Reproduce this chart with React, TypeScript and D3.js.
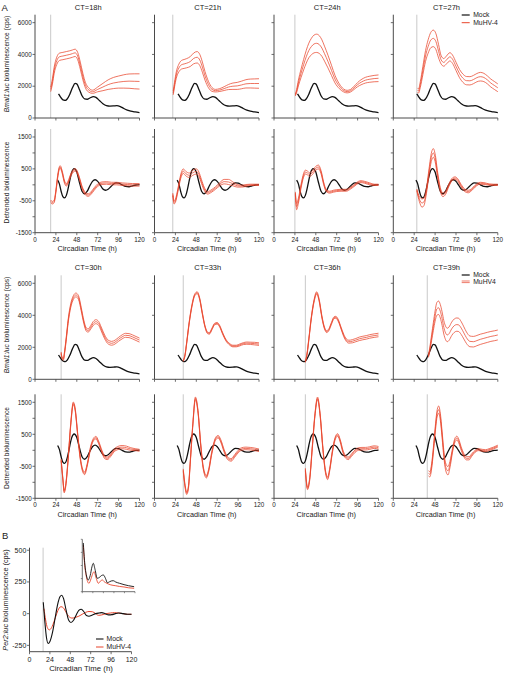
import React from 'react';
import * as d3 from 'd3';

// ---------------- data ----------------
const CT_VALUES = [18, 21, 24, 27, 30, 33, 36, 39];
const X_TICKS = [0, 24, 48, 72, 96, 120];
const RAW_Y_TICKS = [0, 2000, 4000, 6000];
const DET_Y_TICKS = [-1500, -1000, -500, 0, 500, 1000, 1500];
const DET_Y_LABELS = [-1500, -500, 500, 1500];
const PER2_Y_TICKS = [-250, 0, 250, 500];
const INSET_Y_TICKS = [0, 500, 1000, 1500, 2000];
const PER2_CT = 16;

// Mock (black) Bmal1:luc raw
const mockRawT = [27, 29, 31, 33, 35, 37, 40, 43, 46, 48, 51, 54, 57, 60, 63, 67, 70, 74, 78, 82, 86, 90, 94, 98, 102, 106, 110, 115, 120];
const mockRawV = [1520, 1350, 1200, 1120, 1110, 1200, 1500, 1900, 2180, 2150, 1800, 1400, 1200, 1180, 1260, 1350, 1300, 1100, 900, 780, 750, 760, 780, 720, 600, 500, 430, 380, 340];
// Mock detrended
const mockDetT = [26, 28, 30, 32, 34, 36, 38, 40, 42, 45, 48, 51, 54, 57, 60, 63, 66, 69, 72, 75, 78, 81, 84, 87, 90, 93, 96, 100, 104, 108, 112, 116, 120];
const mockDetV = [150, 30, -200, -370, -410, -330, -120, 150, 380, 510, 400, 80, -200, -280, -200, -30, 110, 160, 110, -10, -130, -170, -140, -60, 20, 60, 50, 0, -50, -60, -30, -5, 5];

// MuHV-4 (red) raw: times, mean, SEM per panel
const redRawT = [
  [18, 20, 22, 25, 28, 32, 36, 40, 43, 46, 49, 52, 55, 58, 62, 66, 72, 78, 84, 90, 96, 102, 108, 114, 120],
  [21.5, 23, 25, 28, 31, 34, 37, 41, 45, 49, 52, 55, 58, 62, 66, 70, 75, 80, 85, 90, 95, 100, 105, 110, 115, 120],
  [24.5, 26, 28, 31, 34, 37, 40, 43, 46, 49, 52, 55, 58, 62, 66, 70, 75, 80, 84, 88, 92, 96, 100, 105, 110, 115, 120],
  [27.7, 29, 31, 34, 37, 40, 43, 46, 49, 52, 55, 58, 61, 65, 68, 72, 76, 80, 84, 88, 92, 96, 100, 104, 108, 112, 116, 120],
  [30, 31, 32.5, 34, 36, 38, 41, 44, 47, 50, 53, 56, 59, 61, 64, 67, 70, 73, 76, 80, 84, 88, 92, 96, 100, 104, 108, 112, 116, 120],
  [33, 35, 37, 40, 43, 46, 49, 52, 55, 58, 61, 63, 66, 69, 72, 75, 78, 82, 86, 90, 94, 98, 102, 106, 110, 115, 120],
  [36, 38, 40, 43, 46, 49, 52, 55, 58, 60.5, 63, 66, 69, 71, 74, 77, 80, 83, 86, 90, 94, 98, 102, 106, 110, 115, 120],
  [40.4, 42, 44, 46, 48, 50, 52, 54, 56, 58, 60, 62, 64, 67, 70, 73, 75, 78, 81, 84, 88, 92, 96, 100, 104, 108, 112, 116, 120],
];
const redRawMean = [
  [1800, 2300, 3000, 3600, 3850, 3900, 3950, 4000, 4050, 4100, 3900, 3300, 2600, 2050, 1750, 1650, 1800, 1950, 2100, 2200, 2260, 2300, 2320, 2310, 2300],
  [1580, 2100, 2700, 3150, 3350, 3400, 3450, 3550, 3750, 3820, 3650, 3200, 2650, 2100, 1800, 1720, 1760, 1850, 1950, 2000, 2020, 2080, 2150, 2170, 2170, 2170],
  [1450, 1700, 2200, 2800, 3350, 3850, 4250, 4500, 4660, 4700, 4620, 4400, 4050, 3550, 3000, 2450, 2000, 1730, 1660, 1720, 1900, 2100, 2250, 2380, 2440, 2480, 2500],
  [1760, 1700, 2100, 3000, 3900, 4500, 4900, 5010, 4800, 4200, 3650, 3500, 3650, 3850, 3700, 3250, 2800, 2500, 2350, 2340, 2420, 2540, 2600, 2550, 2400, 2200, 2050, 1900],
  [1650, 1350, 1250, 1700, 2600, 3600, 4600, 5100, 5270, 5100, 4400, 3600, 3100, 3050, 3250, 3500, 3600, 3500, 3150, 2650, 2330, 2250, 2330, 2500, 2650, 2750, 2730, 2650, 2550, 2450],
  [1150, 1500, 2300, 3600, 4600, 5250, 5410, 5000, 4100, 3300, 2900, 2870, 3150, 3450, 3500, 3300, 2900, 2450, 2200, 2080, 2080, 2150, 2230, 2260, 2250, 2230, 2200],
  [1100, 1600, 2500, 3900, 4900, 5400, 4900, 3900, 3200, 2980, 3100, 3500, 3850, 3875, 3650, 3200, 2750, 2450, 2350, 2380, 2450, 2530, 2580, 2620, 2680, 2730, 2770],
  [1450, 1900, 2600, 3300, 3950, 4400, 4470, 4250, 3800, 3250, 2900, 2770, 2850, 3150, 3350, 3420, 3400, 3200, 2900, 2600, 2370, 2350, 2420, 2500, 2560, 2620, 2680, 2720, 2770],
];
const redRawSem = [
  [140, 170, 200, 230, 230, 230, 230, 230, 230, 230, 230, 220, 200, 170, 130, 100, 150, 230, 300, 350, 380, 420, 450, 470, 480],
  [120, 150, 200, 240, 270, 280, 290, 310, 340, 360, 350, 320, 270, 200, 120, 80, 90, 120, 160, 200, 220, 240, 260, 280, 290, 300],
  [60, 100, 180, 260, 330, 400, 460, 520, 560, 575, 560, 520, 470, 400, 320, 240, 150, 90, 80, 80, 100, 130, 160, 180, 190, 200, 210],
  [130, 130, 180, 260, 340, 420, 480, 520, 500, 420, 260, 240, 250, 260, 260, 260, 260, 260, 260, 260, 260, 260, 270, 260, 250, 250, 250, 245],
  [60, 60, 60, 80, 100, 110, 120, 120, 120, 120, 110, 100, 100, 100, 110, 120, 125, 120, 120, 120, 120, 120, 120, 120, 125, 125, 125, 125, 125, 125],
  [40, 50, 50, 60, 60, 60, 60, 60, 60, 50, 50, 50, 50, 50, 50, 50, 50, 50, 50, 50, 50, 60, 60, 70, 70, 80, 80],
  [50, 60, 60, 70, 70, 70, 70, 70, 60, 60, 60, 60, 60, 60, 60, 60, 70, 80, 90, 100, 100, 110, 110, 110, 110, 110, 110],
  [80, 120, 180, 250, 320, 400, 420, 420, 420, 420, 420, 420, 420, 420, 420, 415, 415, 400, 380, 360, 335, 330, 320, 320, 315, 315, 310, 310, 310],
];

// MuHV-4 detrended
const redDetT = [
  [18, 20, 22, 24, 26, 28, 29, 31, 34, 36, 38, 41, 44, 46, 48, 51, 54, 58, 61, 64, 68, 72, 77, 82, 88, 94, 100, 106, 112, 120],
  [21, 22.5, 24, 27, 30, 33, 36, 40, 44, 48, 51, 54, 57, 61, 65, 70, 75, 80, 85, 90, 95, 100, 105, 110, 115, 120],
  [24.5, 26, 28, 31, 34, 36, 38, 41, 44, 48, 51, 54, 57, 60, 64, 68, 72, 77, 83, 88, 93, 97, 100, 104, 110, 115, 120],
  [27, 30, 33, 35, 38, 41, 44, 46, 48, 51, 54, 57, 60, 64, 68, 71, 74, 78, 82, 86, 90, 94, 98, 100, 104, 110, 115, 120],
  [30, 32, 33.5, 35, 38, 41, 44, 46, 49, 52, 55, 57, 60, 64, 67, 70, 73, 77, 80, 83, 87, 91, 95, 100, 105, 110, 115, 120],
  [33, 35, 37, 39, 41, 44, 47, 50, 53, 56, 59.6, 62, 66, 70, 73, 76, 80, 84, 88, 92, 96, 100, 105, 110, 115, 120],
  [36, 38.5, 41, 44, 47, 50, 53, 56, 59, 61.6, 64, 67, 70, 73, 76, 79, 82, 85.4, 89, 93, 97, 101, 105, 110, 115, 120],
  [40.4, 42, 44, 46, 48, 50, 52, 54, 56, 58, 60, 62.8, 65, 68, 71, 73, 75, 78, 81, 84, 87, 90, 94, 98, 102, 106, 110, 115, 120],
];
const redDetMean = [
  [-520, -560, -520, -200, 250, 530, 560, 420, 80, 0, 80, 300, 440, 470, 420, 200, -80, -280, -320, -270, -130, -10, 50, 60, 40, 40, 20, 10, 0, 0],
  [-300, -550, -500, -150, 250, 430, 350, 300, 380, 420, 330, 100, -120, -250, -200, -100, 20, 100, 90, 30, -30, -40, -20, 0, 0, 0],
  [-260, -680, -500, -50, 300, 400, 380, 320, 380, 520, 560, 400, 50, -180, -230, -200, -180, -170, -170, -100, 0, 80, 100, 80, 30, 0, 0],
  [-160, -450, -570, -540, -200, 400, 900, 1000, 850, 300, -150, -310, -250, 0, 180, 210, 150, -30, -170, -210, -150, -40, 40, 50, 40, 10, 0, 0],
  [-300, -900, -1290, -1150, -300, 800, 1470, 1300, 500, -250, -650, -720, -450, 100, 330, 395, 250, -50, -220, -250, -150, 0, 70, 100, 80, 40, 20, 0],
  [-620, -1100, -1340, -1150, -400, 800, 1625, 1200, 200, -550, -825, -650, -50, 350, 425, 300, -20, -250, -300, -180, -40, 40, 60, 50, 30, 0],
  [-600, -1190, -900, 100, 1100, 1625, 1100, 100, -650, -875, -600, -50, 350, 480, 300, -20, -200, -250, -150, -30, 40, 50, 50, 70, 100, 80],
  [-720, -750, -500, 0, 600, 1100, 1270, 1050, 500, -100, -500, -640, -450, 0, 330, 380, 300, 50, -150, -250, -250, -150, -30, 20, 0, -10, 20, 70, 130],
];
const redDetSem = [
  [40, 40, 40, 40, 40, 40, 40, 40, 40, 40, 40, 40, 40, 40, 40, 40, 40, 40, 40, 40, 40, 40, 40, 40, 40, 40, 40, 40, 40, 40],
  [40, 50, 50, 50, 60, 70, 70, 70, 80, 80, 70, 60, 50, 40, 40, 40, 50, 70, 80, 60, 40, 30, 30, 20, 20, 20],
  [40, 100, 80, 60, 60, 60, 60, 60, 60, 60, 60, 50, 40, 30, 30, 30, 30, 30, 30, 30, 30, 30, 30, 30, 30, 20, 20],
  [30, 80, 130, 120, 80, 100, 130, 135, 120, 80, 60, 60, 50, 40, 40, 40, 40, 40, 40, 40, 30, 30, 30, 30, 30, 20, 20, 20],
  [30, 30, 40, 40, 40, 40, 40, 40, 40, 40, 40, 40, 40, 40, 40, 40, 40, 40, 40, 40, 40, 40, 50, 50, 50, 40, 30, 30],
  [40, 40, 40, 40, 40, 40, 40, 40, 40, 40, 40, 40, 40, 40, 40, 40, 40, 40, 40, 40, 40, 40, 40, 40, 40, 40],
  [40, 40, 40, 40, 40, 40, 40, 40, 40, 40, 40, 40, 40, 40, 40, 40, 40, 40, 40, 40, 40, 40, 40, 40, 40, 40],
  [80, 80, 80, 80, 90, 100, 115, 110, 100, 100, 110, 130, 100, 60, 60, 60, 60, 50, 50, 50, 50, 40, 30, 30, 30, 30, 30, 30, 30],
];

// Panel B: Per2:luc detrended
const per2MockT = [16.2, 18, 20, 22, 24, 27, 30, 33, 36, 38, 40, 43, 46, 48.8, 52, 55, 58, 61, 64, 67, 70, 74, 78, 82, 85, 89, 93, 97, 101, 105, 110, 115, 120];
const per2MockV = [90, -60, -190, -235, -220, -150, -40, 70, 135, 145, 120, 30, -50, -70, -50, -10, 25, 35, 15, -15, -20, -10, 0, 5, 8, 0, -10, -8, 0, 5, 0, -5, -5];
const per2VirusT = [17, 19, 21, 23.3, 26, 29, 32, 35, 37, 40, 43, 46, 50, 54, 58, 62, 66, 70, 74, 78, 81, 85, 90, 95, 100, 105, 110, 115, 120];
const per2VirusV = [40, -50, -110, -128, -110, -60, 0, 45, 55, 45, 10, -20, -35, -30, -20, -5, 10, 17, 15, 0, -13, -10, 0, 5, 8, 5, 0, -5, -5];
// Inset: raw Per2:luc
const insetMockT = [2.3, 5, 9, 13.7, 18, 22, 25, 29, 34, 40, 44, 48, 53, 57, 62, 66, 70.5, 76, 85, 95, 105, 118];
const insetMockV = [1860, 1200, 650, 447, 620, 950, 1084, 850, 511, 560, 620, 637, 500, 343, 380, 410, 420, 370, 320, 270, 230, 191];
const insetVirusT = [2.3, 5, 9, 15, 20, 24, 27, 31, 36.6, 41, 45.5, 50, 56, 65, 75, 85, 95, 105, 118];
const insetVirusV = [1782, 1100, 600, 320, 500, 700, 763, 550, 320, 400, 447, 380, 320, 260, 230, 200, 180, 150, 130];

// ---------------- style / layout ----------------
const FONT = "'Liberation Sans', Arial, Helvetica, sans-serif";
const RED = '#e8452c';
const BLACK = '#111111';
const GRAY = '#c9c9c9';
const AXIS = '#4a4a4a';
const PANEL_X = [35, 154.5, 274, 393.3];
const PANEL_W = 104.5;
const ROWS = [
  { kind: 'raw', bottom: 118, top: 14.7, domain: [0, 6500], title: 9.7 },
  { kind: 'det', bottom: 232.7, top: 129, domain: [-1500, 1750] },
  { kind: 'raw', bottom: 379.3, top: 275.3, domain: [0, 6500], title: 270 },
  { kind: 'det', bottom: 498.3, top: 394.3, domain: [-1500, 1750] },
];

function linePath(ts: number[], vs: number[], x: any, y: any): string {
  const gen = d3
    .line<number>()
    .x((_, i) => x(ts[i]))
    .y((v) => y(v))
    .curve(d3.curveMonotoneX);
  return gen(vs) || '';
}

function Panel({ rowIdx, col }: { rowIdx: number; col: number }) {
  const row = ROWS[rowIdx];
  const panelIdx = (rowIdx < 2 ? 0 : 4) + col;
  const ct = CT_VALUES[panelIdx];
  const x0 = PANEL_X[col];
  const x = d3.scaleLinear().domain([0, 120]).range([x0, x0 + PANEL_W]);
  const y = d3.scaleLinear().domain(row.domain).range([row.bottom, row.top]);
  const isRaw = row.kind === 'raw';
  const yTicks = isRaw ? RAW_Y_TICKS : DET_Y_TICKS;
  const yLabels = isRaw ? RAW_Y_TICKS : DET_Y_LABELS;
  const t = isRaw ? redRawT[panelIdx] : redDetT[panelIdx];
  const m = isRaw ? redRawMean[panelIdx] : redDetMean[panelIdx];
  const s = isRaw ? redRawSem[panelIdx] : redDetSem[panelIdx];
  const upper = m.map((v, i) => v + s[i]);
  const lower = m.map((v, i) => v - s[i]);
  const mockT = isRaw ? mockRawT : mockDetT;
  const mockV = isRaw ? mockRawV : mockDetV;
  return (
    <g>
      <line x1={x(ct)} x2={x(ct)} y1={row.top} y2={row.bottom} stroke={GRAY} strokeWidth={1} />
      <path d={linePath(mockT, mockV, x, y)} fill="none" stroke={BLACK} strokeWidth={1.3} />
      {[lower, m, upper].map((vs, k) => (
        <path key={k} d={linePath(t, vs, x, y)} fill="none" stroke={RED} strokeWidth={0.75} />
      ))}
      {/* y axis */}
      <line x1={x0} x2={x0} y1={row.top} y2={row.bottom} stroke={AXIS} strokeWidth={1} />
      {yTicks.map((v) => (
        <line key={v} x1={x0 - 2.5} x2={x0} y1={y(v)} y2={y(v)} stroke={AXIS} strokeWidth={0.8} />
      ))}
      {col === 0 &&
        yLabels.map((v) => (
          <text key={v} x={x0 - 3.2} y={y(v)} dy="0.35em" textAnchor="end" fontSize={6.3} fontFamily={FONT} fill="#222">
            {String(v)}
          </text>
        ))}
      {/* x axis */}
      <line x1={x0} x2={x0 + PANEL_W} y1={row.bottom} y2={row.bottom} stroke={AXIS} strokeWidth={1} />
      {X_TICKS.map((v) => (
        <line key={v} x1={x(v)} x2={x(v)} y1={row.bottom} y2={row.bottom + 2.5} stroke={AXIS} strokeWidth={0.8} />
      ))}
      {!isRaw &&
        X_TICKS.map((v) => (
          <text key={v} x={x(v)} y={row.bottom + 8.9} textAnchor="middle" fontSize={6.3} fontFamily={FONT} fill="#222">
            {String(v)}
          </text>
        ))}
      {!isRaw && (
        <text x={x0 + PANEL_W / 2} y={row.bottom + 18.6} textAnchor="middle" fontSize={7.3} fontFamily={FONT} fill="#222">
          Circadian Time (h)
        </text>
      )}
      {isRaw && (
        <text x={x0 + PANEL_W / 2 + 1} y={row.title} textAnchor="middle" fontSize={7.5} fontFamily={FONT} fill="#222">
          {`CT=${ct}h`}
        </text>
      )}
    </g>
  );
}

function Legend({ x, y, label, gap, doubleRed }: { x: number; y: number; label: string; gap: number; doubleRed?: boolean }) {
  return (
    <g fontFamily={FONT} fontSize={6.8} fill="#222">
      <line x1={x} x2={x + 8} y1={y} y2={y} stroke={BLACK} strokeWidth={1.2} />
      <text x={x + 11.5} y={y} dy="0.35em">Mock</text>
      {doubleRed ? (
        <g>
          <line x1={x} x2={x + 8} y1={y + gap - 0.8} y2={y + gap - 0.8} stroke={RED} strokeWidth={0.7} />
          <line x1={x} x2={x + 8} y1={y + gap + 0.8} y2={y + gap + 0.8} stroke={RED} strokeWidth={0.7} />
        </g>
      ) : (
        <line x1={x} x2={x + 8} y1={y + gap} y2={y + gap} stroke={RED} strokeWidth={1} />
      )}
      <text x={x + 11.5} y={y + gap} dy="0.35em">{label}</text>
    </g>
  );
}

function PanelB() {
  const x = d3.scaleLinear().domain([0, 120]).range([29.5, 131.5]);
  const y = d3.scaleLinear().domain([-300, 520]).range([651.7, 547.7]);
  const ix = d3.scaleLinear().domain([0, 120]).range([82.3, 135]);
  const iy = d3.scaleLinear().domain([0, 2000]).range([591.7, 539.3]);
  return (
    <g>
      <line x1={x(PER2_CT)} x2={x(PER2_CT)} y1={547.7} y2={651.7} stroke={GRAY} strokeWidth={1} />
      <path d={linePath(per2VirusT, per2VirusV, x, y)} fill="none" stroke={RED} strokeWidth={1} />
      <path d={linePath(per2MockT, per2MockV, x, y)} fill="none" stroke={BLACK} strokeWidth={1.1} />
      <line x1={29.5} x2={29.5} y1={547.7} y2={651.7} stroke={AXIS} strokeWidth={1} />
      {PER2_Y_TICKS.map((v) => (
        <g key={v}>
          <line x1={27} x2={29.5} y1={y(v)} y2={y(v)} stroke={AXIS} strokeWidth={0.8} />
          <text x={26.3} y={y(v)} dy="0.35em" textAnchor="end" fontSize={7} fontFamily={FONT} fill="#222">
            {String(v)}
          </text>
        </g>
      ))}
      <line x1={29.5} x2={131.5} y1={651.7} y2={651.7} stroke={AXIS} strokeWidth={1} />
      {X_TICKS.map((v) => (
        <g key={v}>
          <line x1={x(v)} x2={x(v)} y1={651.7} y2={654.2} stroke={AXIS} strokeWidth={0.8} />
          <text x={x(v)} y={661.5} textAnchor="middle" fontSize={7} fontFamily={FONT} fill="#222">
            {String(v)}
          </text>
        </g>
      ))}
      <text x={81} y={671} textAnchor="middle" fontSize={7.8} fontFamily={FONT} fill="#222">
        Circadian Time (h)
      </text>
      {/* inset */}
      <path d={linePath(insetVirusT, insetVirusV, ix, iy)} fill="none" stroke={RED} strokeWidth={0.9} />
      <path d={linePath(insetMockT, insetMockV, ix, iy)} fill="none" stroke={BLACK} strokeWidth={0.9} />
      <line x1={82.3} x2={82.3} y1={539.3} y2={591.7} stroke={AXIS} strokeWidth={0.8} />
      {INSET_Y_TICKS.map((v) => (
        <line key={v} x1={80.8} x2={82.3} y1={iy(v)} y2={iy(v)} stroke={AXIS} strokeWidth={0.6} />
      ))}
      <line x1={82.3} x2={135} y1={591.7} y2={591.7} stroke={AXIS} strokeWidth={0.8} />
      {X_TICKS.map((v) => (
        <line key={v} x1={ix(v)} x2={ix(v)} y1={591.7} y2={593.2} stroke={AXIS} strokeWidth={0.6} />
      ))}
      {/* legend */}
      <g fontFamily={FONT} fontSize={6.8} fill="#222">
        <line x1={96} x2={103.5} y1={639} y2={639} stroke={BLACK} strokeWidth={1.1} />
        <text x={106.5} y={639} dy="0.35em">Mock</text>
        <line x1={96} x2={103.5} y1={647} y2={647} stroke={RED} strokeWidth={1} />
        <text x={106.5} y={647} dy="0.35em">MuHV-4</text>
      </g>
      {/* y title */}
      <text transform="translate(8,600) rotate(-90)" textAnchor="middle" fontSize={7.3} fontFamily={FONT} fill="#222">
        <tspan fontStyle="italic">Per2:luc</tspan>
        <tspan> bioluminescence (cps)</tspan>
      </text>
      <text x={2} y={538.5} fontSize={9.5} fontFamily={FONT} fill="#222">B</text>
    </g>
  );
}

function YTitle({ cx, cy, kind }: { cx: number; cy: number; kind: string }) {
  return (
    <text transform={`translate(${cx},${cy}) rotate(-90)`} textAnchor="middle" fontSize={6.6} fontFamily={FONT} fill="#222">
      {kind === 'raw' ? (
        <>
          <tspan fontStyle="italic">Bmal1:luc</tspan>
          <tspan> bioluminescence (cps)</tspan>
        </>
      ) : (
        <tspan>Detrended  bioluminescence</tspan>
      )}
    </text>
  );
}

export default function App() {
  return (
    <svg
      width={505}
      height={673}
      viewBox="0 0 505 673"
      style={{ position: 'absolute', left: 0, top: 0, background: '#fff' }}
    >
      <rect x={0} y={0} width={505} height={673} fill="#fff" />
      <text x={1.5} y={10.5} fontSize={9.5} fontFamily={FONT} fill="#222">A</text>
      {ROWS.map((_, r) =>
        PANEL_X.map((__, c) => <Panel key={`${r}-${c}`} rowIdx={r} col={c} />)
      )}
      <YTitle cx={8.5} cy={64} kind="raw" />
      <YTitle cx={8.5} cy={182.5} kind="det" />
      <YTitle cx={8.5} cy={325} kind="raw" />
      <YTitle cx={8.5} cy={448} kind="det" />
      <Legend x={461.7} y={15} gap={7.7} label="MuHV-4" />
      <Legend x={461.7} y={275} gap={6.8} label="MuHV4" doubleRed />
      <PanelB />
    </svg>
  );
}
